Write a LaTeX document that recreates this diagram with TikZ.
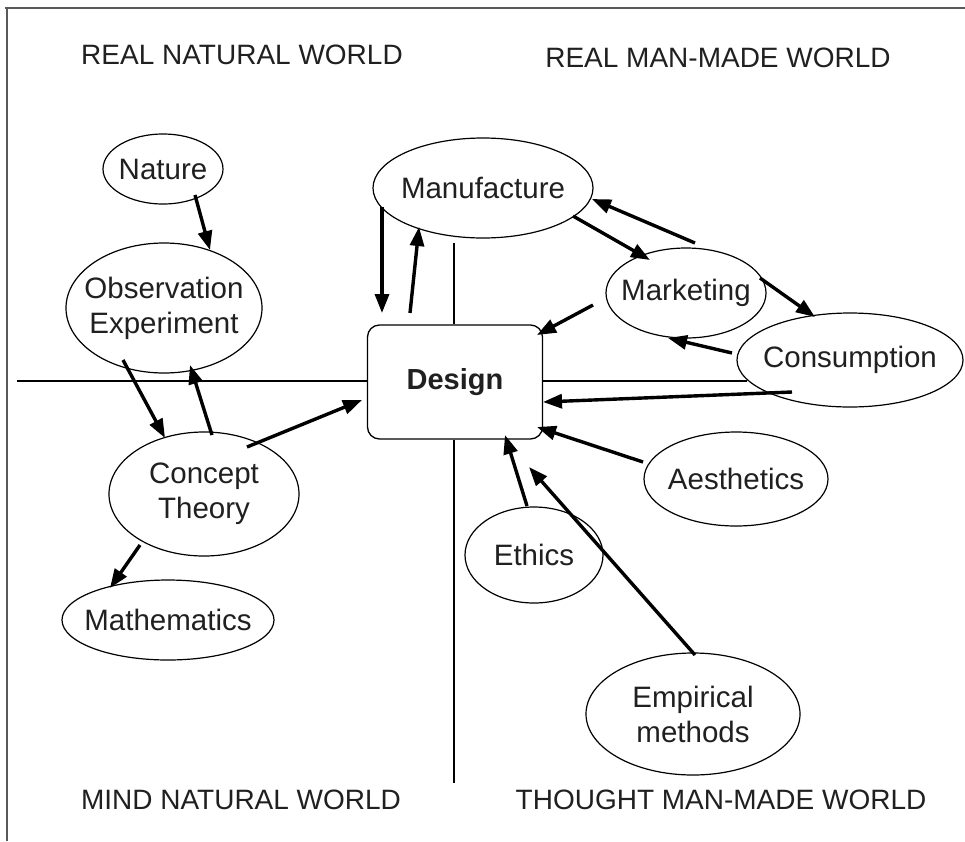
\documentclass[tikz,border=0pt]{standalone}
\usepackage{fontspec}
\setmainfont{Liberation Sans}
\usetikzlibrary{arrows.meta,shapes.geometric}
\definecolor{txt}{HTML}{202020}
\tikzset{
  oval/.style={ellipse, draw=black, line width=1.2pt, inner xsep=-20pt, inner ysep=-10pt, text=txt,
    font=\fontsize{29.5}{35}\selectfont, align=center},
  dbox/.style={rectangle, rounded corners=12pt, draw=black, line width=1.3pt,
    minimum width=175pt, minimum height=114pt, inner sep=0pt,
    font=\fontsize{29}{34}\selectfont\bfseries, text=txt},
  head/.style={font=\fontsize{28}{32}\selectfont, text=txt, inner sep=0pt},
  arr/.style={line width=3.4pt, -{Triangle[length=19pt,width=14pt]}},
  axis/.style={line width=1.3pt},
}
\begin{document}
\begin{tikzpicture}[x=1pt,y=-1pt]
\useasboundingbox (0,0) rectangle (965,841);
\fill[white] (0,0) rectangle (965,841);
% frame
\draw[line width=2pt, gray!70!black] (5,8) -- (965,8);
\draw[line width=2pt, gray!70!black] (7,8) -- (7,841);

% headings
\node[head] (h1) at (242,55) {REAL NATURAL WORLD};
\node[head] (h2) at (718,58) {REAL MAN-MADE WORLD};
\node[head] (h3) at (241,800) {MIND NATURAL WORLD};
\node[head] (h4) at (721,800) {THOUGHT MAN-MADE WORLD};

% nodes
\node[dbox] (des) at (455,382) {Design};
\node[oval, minimum width=120pt, minimum height=70pt] (nat) at (163,169) {Nature};
\node[oval, minimum width=196pt, minimum height=130pt] (obs) at (164,308) {Observation\\Experiment};
\node[oval, minimum width=190pt, minimum height=124pt] (con) at (204,494) {Concept\\Theory};
\node[oval, minimum width=212pt, minimum height=80pt] (mat) at (168,620) {Mathematics};
\node[oval, minimum width=220pt, minimum height=100pt] (man) at (483,188) {Manufacture};
\node[oval, minimum width=160pt, minimum height=90pt] (mkt) at (686,293) {Marketing};
\node[oval, minimum width=226pt, minimum height=94pt] (cns) at (850,360) {Consumption};
\node[oval, minimum width=184pt, minimum height=94pt] (aes) at (736,479) {Aesthetics};
\node[oval, minimum width=138pt, minimum height=96pt] (eth) at (534,555) {Ethics};
\node[oval, minimum width=214pt, minimum height=122pt] (emp) at (693,714) {Empirical\\methods};

% axes
\coordinate (hl) at (17,381);
\coordinate (hr) at (747,381);
\coordinate (vt) at (454,243);
\coordinate (vb) at (454,783);
\draw[axis] (hl) -- (des.west |- hl);
\draw[axis] (des.east |- hr) -- (hr);
\draw[axis] (vt) -- (vt |- des.north);
\draw[axis] (vb |- des.south) -- (vb);

% arrows
\draw[arr] ([shift={(32,26)}]nat.center) -- ([shift={(46,-58)}]obs.center);
\draw[arr] ([shift={(-41,52)}]obs.center) -- ([shift={(-39,-56)}]con.center);
\draw[arr] ([shift={(8,-59)}]con.center) -- ([shift={(26,57)}]obs.center);
\draw[arr] ([shift={(43,-47)}]con.center) -- ([shift={(-93,18)}]des.center);
\draw[arr] ([shift={(-64,51)}]con.center) -- ([shift={(-58,-32)}]mat.center);
\draw[arr] ([shift={(-101,19)}]man.center) -- ([shift={(-73,-69)}]des.center);
\draw[arr] ([shift={(-45,-69)}]des.center) -- ([shift={(-64,39)}]man.center);
\draw[arr] ([shift={(90,28)}]man.center) -- ([shift={(-36,-33)}]mkt.center);
\draw[arr] ([shift={(9,-50)}]mkt.center) -- ([shift={(109,11)}]man.center);
\draw[arr] ([shift={(74,-15)}]mkt.center) -- ([shift={(-35,-43)}]cns.center);
\draw[arr] ([shift={(-118,-7)}]cns.center) -- ([shift={(-18,45)}]mkt.center);
\draw[arr] ([shift={(-93,12)}]mkt.center) -- ([shift={(82,-47)}]des.center);
\draw[arr] ([shift={(-58,32)}]cns.center) -- ([shift={(88,20)}]des.center);
\draw[arr] ([shift={(-93,-17)}]aes.center) -- ([shift={(82,45)}]des.center);
\draw[arr] ([shift={(-7,-49)}]eth.center) -- ([shift={(50,53)}]des.center);
\draw[arr] ([shift={(2,-59)}]emp.center) -- ([shift={(74,85)}]des.center);
\end{tikzpicture}
\end{document}
